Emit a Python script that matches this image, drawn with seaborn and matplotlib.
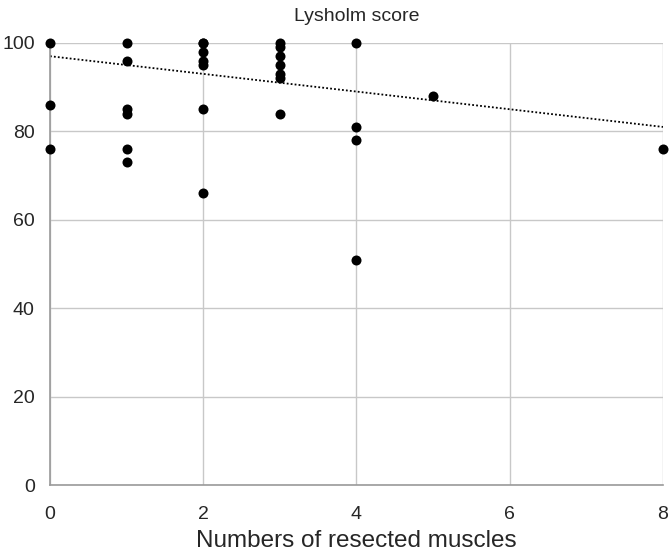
import numpy as np
import pandas as pd
import matplotlib
matplotlib.use('Agg')
import matplotlib.pyplot as plt
import seaborn as sns

# resected muscle count per patient and Lysholm score
muscles = [0, 0, 0,
           1, 1, 1, 1, 1, 1,
           2, 2, 2, 2, 2, 2, 2,
           3, 3, 3, 3, 3, 3, 3,
           4, 4, 4, 4,
           5, 8]
lysholm = [100, 86, 76,
           100, 96, 85, 84, 76, 73,
           100, 98, 96, 95, 85, 66, 100,
           100, 99, 97, 95, 93, 92, 84,
           100, 81, 78, 51,
           88, 76]

# trendline as drawn in the original chart (value at x=0 and at x=8)
trend_x = [0, 8]
trend_y = [97, 81]

df = pd.DataFrame({'muscles': muscles, 'score': lysholm})

sns.set_style('white')
plt.rcParams['font.family'] = ['Liberation Sans', 'DejaVu Sans']

fig = plt.figure(figsize=(6.69, 5.54), dpi=100)
ax = fig.add_axes([0.0747, 0.1245, 0.9163, 0.798])

sns.scatterplot(data=df, x='muscles', y='score', ax=ax, color='black',
                s=52, edgecolor='black', linewidth=0, zorder=3, clip_on=False)

sns.lineplot(x=trend_x, y=trend_y, ax=ax, color='black',
             linestyle=(0, (1, 1.2)), linewidth=1.3, zorder=2)

ax.set_xlim(0, 8)
ax.set_ylim(0, 100)
ax.set_xticks([0, 2, 4, 6, 8])
ax.set_yticks([0, 20, 40, 60, 80, 100])
ax.grid(True, color='#c8c8c8', linewidth=1)
ax.set_axisbelow(True)
for side in ['top', 'right']:
    ax.spines[side].set_visible(False)
for side in ['left', 'bottom']:
    ax.spines[side].set_color('#9a9a9a')
    ax.spines[side].set_linewidth(1.2)

ax.tick_params(length=0, labelsize=14)
ax.tick_params(axis='x', pad=15)
ax.tick_params(axis='y', pad=11)
ax.set_xlabel('Numbers of resected muscles', fontsize=17.5, labelpad=5)
ax.set_ylabel('')
ax.set_title('Lysholm score', fontsize=14, pad=16)

fig.savefig('out.png', dpi=100)
